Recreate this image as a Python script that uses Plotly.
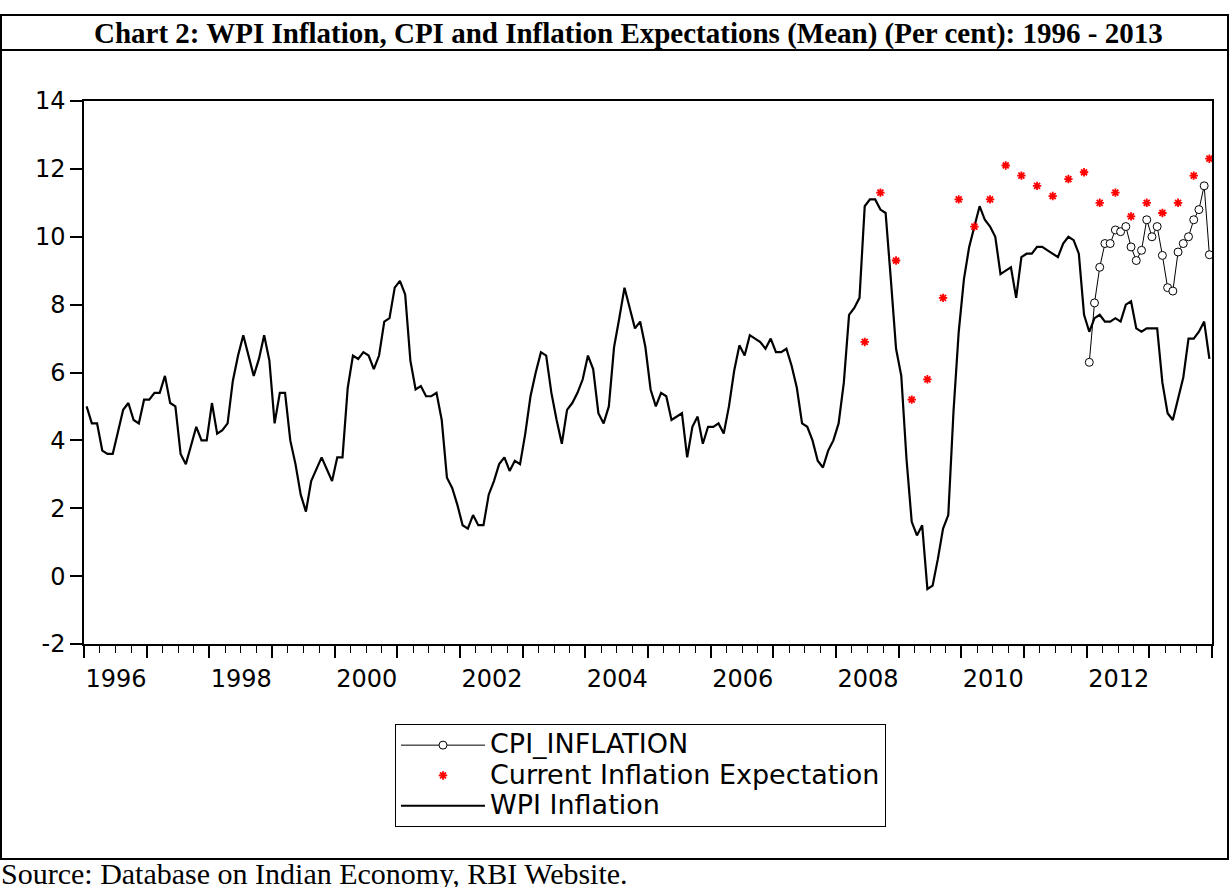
import plotly.graph_objects as go

W, H = 1229, 887
L, R, T, B = 84, 1212, 101, 644  # plot area pixel bounds


def px(x):
    return (x - L) / (R - L)


def py(y):
    return (B - y) / (B - T)


# ---------------- data ----------------
wpi_start = (1996, 1)  # monthly
wpi = [
    5.0, 4.5, 4.5, 3.7, 3.6, 3.6, 4.25, 4.9, 5.1, 4.6, 4.5, 5.2,        # 1996
    5.2, 5.4, 5.4, 5.9, 5.1, 5.0, 3.6, 3.3, 3.85, 4.4, 4.0, 4.0,        # 1997
    5.1, 4.2, 4.3, 4.5, 5.75, 6.5, 7.1, 6.5, 5.9, 6.4, 7.1, 6.35,       # 1998
    4.5, 5.4, 5.4, 4.0, 3.3, 2.4, 1.9, 2.8, 3.15, 3.5, 3.15, 2.8,       # 1999
    3.5, 3.5, 5.55, 6.5, 6.4, 6.6, 6.5, 6.1, 6.5, 7.5, 7.6, 8.5,        # 2000
    8.7, 8.3, 6.35, 5.5, 5.6, 5.3, 5.3, 5.4, 4.6, 2.9, 2.6, 2.1,        # 2001
    1.5, 1.4, 1.8, 1.5, 1.5, 2.4, 2.8, 3.3, 3.5, 3.1, 3.4, 3.3,         # 2002
    4.2, 5.3, 6.0, 6.6, 6.5, 5.4, 4.6, 3.9, 4.9, 5.1, 5.4, 5.8,         # 2003
    6.5, 6.1, 4.8, 4.5, 5.0, 6.75, 7.6, 8.5, 7.9, 7.3, 7.5, 6.75,       # 2004
    5.5, 5.0, 5.4, 5.3, 4.6, 4.7, 4.8, 3.5, 4.4, 4.7, 3.9, 4.4,         # 2005
    4.4, 4.5, 4.2, 5.0, 6.05, 6.8, 6.5, 7.1, 7.0, 6.9, 6.7, 7.0,        # 2006
    6.6, 6.6, 6.7, 6.2, 5.55, 4.5, 4.4, 4.0, 3.4, 3.2, 3.7, 4.0,        # 2007
    4.5, 5.7, 7.7, 7.9, 8.2, 10.9, 11.1, 11.1, 10.8, 10.7, 8.75, 6.7,   # 2008
    5.9, 3.45, 1.6, 1.2, 1.5, -0.38, -0.28, 0.5, 1.4, 1.8, 4.85, 7.2,   # 2009
    8.75, 9.7, 10.3, 10.9, 10.5, 10.3, 10.0, 8.9, 9.0, 9.1, 8.2, 9.4,   # 2010
    9.5, 9.5, 9.7, 9.7, 9.6, 9.5, 9.4, 9.8, 10.0, 9.9, 9.5, 7.7,        # 2011
    7.2, 7.6, 7.7, 7.5, 7.5, 7.6, 7.5, 8.0, 8.1, 7.3, 7.2, 7.3,         # 2012
    7.3, 7.3, 5.7, 4.8, 4.6, 5.2, 5.85, 7.0, 7.0, 7.2, 7.5, 6.4,        # 2013
]

cpi_start = (2012, 1)  # monthly
cpi = [
    6.3, 8.05, 9.1, 9.8, 9.8, 10.2, 10.15, 10.3, 9.7, 9.3, 9.6, 10.5,
    10.0, 10.3, 9.45, 8.5, 8.4, 9.55, 9.8, 10.0, 10.5, 10.8, 11.5, 9.47,
]

exp_start = (2008, 6)  # quarterly survey rounds
exp_step = 3
expectation = [
    6.9, 11.3, 9.3, 5.2, 5.8, 8.2, 11.1, 10.3, 11.1, 12.1, 11.8, 11.5,
    11.2, 11.7, 11.9, 11.0, 11.3, 10.6, 11.0, 10.7, 11.0, 11.8, 12.3,
]

series_names = ["CPI_INFLATION", "Current Inflation Expectation", "WPI Inflation"]

year_ticks = list(range(1996, 2015))
year_labels = [str(y) if (y % 2 == 0 and y < 2014) else "" for y in year_ticks]
y_ticks = list(range(-2, 16, 2))
y_labels = [str(v) for v in y_ticks]


def month_x(start, n, step=1):
    y0, m0 = start
    return [y0 + ((m0 - 1) + i * step + 0.5) / 12.0 for i in range(n)]


def legend_name(s):
    # legend rows are compact in the reference; text drawn larger than row height
    return "<span style='font-size:27px'>" + s + "</span>"


fig = go.Figure()

fig.add_trace(go.Scatter(
    x=month_x(wpi_start, len(wpi)), y=wpi, mode="lines", name=legend_name(series_names[2]),
    line=dict(color="black", width=2.2), legendrank=3,
))
fig.add_trace(go.Scatter(
    x=month_x(cpi_start, len(cpi)), y=cpi, mode="lines+markers", name=legend_name(series_names[0]),
    line=dict(color="black", width=1),
    marker=dict(symbol="circle", size=8, color="white", line=dict(color="black", width=1)),
    legendrank=1,
))
fig.add_trace(go.Scatter(
    x=month_x(exp_start, len(expectation), exp_step), y=expectation, mode="markers",
    name=legend_name(series_names[1]),
    marker=dict(symbol="asterisk", size=7, color="red", line=dict(color="red", width=1.8)),
    legendrank=2,
))

font_sans = "DejaVu Sans"
font_serif = "Liberation Serif, Times New Roman, serif"

shapes = []
lw = 2
# outer frame
for yy in (15, 50, 859):
    shapes.append(dict(type="line", xref="paper", yref="paper", x0=px(0), x1=px(1229),
                       y0=py(yy), y1=py(yy), line=dict(color="black", width=lw)))
for xx in (1, 1228):
    shapes.append(dict(type="line", xref="paper", yref="paper", x0=px(xx), x1=px(xx),
                       y0=py(15), y1=py(859), line=dict(color="black", width=lw)))

annotations = [
    dict(text="<b>Chart 2: WPI Inflation, CPI and Inflation Expectations (Mean) (Per cent): 1996 - 2013</b>",
         xref="paper", yref="paper", x=px(628), y=py(34), xanchor="center", yanchor="middle",
         showarrow=False, font=dict(family=font_serif, size=29, color="black")),
    dict(text="Source: Database on Indian Economy, RBI Website.",
         xref="paper", yref="paper", x=px(-1), y=py(873), xanchor="left", yanchor="middle",
         showarrow=False, font=dict(family=font_serif, size=30, color="black")),
]

fig.update_layout(
    width=W, height=H,
    margin=dict(l=L, r=W - R, t=T, b=H - B, pad=0),
    paper_bgcolor="white", plot_bgcolor="white",
    showlegend=True,
    legend=dict(x=px(395), y=py(724), xanchor="left", yanchor="top",
                bordercolor="black", borderwidth=1, bgcolor="white",
                font=dict(family=font_sans, size=21, color="black"),
                itemwidth=84, tracegroupgap=0),
    shapes=shapes, annotations=annotations,
    xaxis=dict(
        range=[1996, 2014], tickmode="array", tickvals=year_ticks, ticktext=year_labels,
        ticks="outside", ticklen=12, tickwidth=1.5, tickcolor="black",
        showline=True, linecolor="black", linewidth=1.5, mirror=True,
        showgrid=False, zeroline=False, ticklabelshift=32,
        tickfont=dict(family=font_sans, size=24, color="black"),
        minor=dict(ticks="outside", ticklen=7, tickwidth=1.2, tickcolor="black",
                   tickmode="linear", tick0=1996, dtick=0.25, showgrid=False),
    ),
    yaxis=dict(
        range=[-2, 14], tickmode="array", tickvals=y_ticks, ticktext=y_labels,
        ticks="outside", ticklen=12, tickwidth=1.5, tickcolor="black",
        showline=True, linecolor="black", linewidth=1.5, mirror=True,
        showgrid=False, zeroline=False,
        tickfont=dict(family=font_sans, size=24, color="black"),
    ),
)

fig.write_html("out.html", config={"displayModeBar": False},
               post_script="document.body.style.margin='0px';")
